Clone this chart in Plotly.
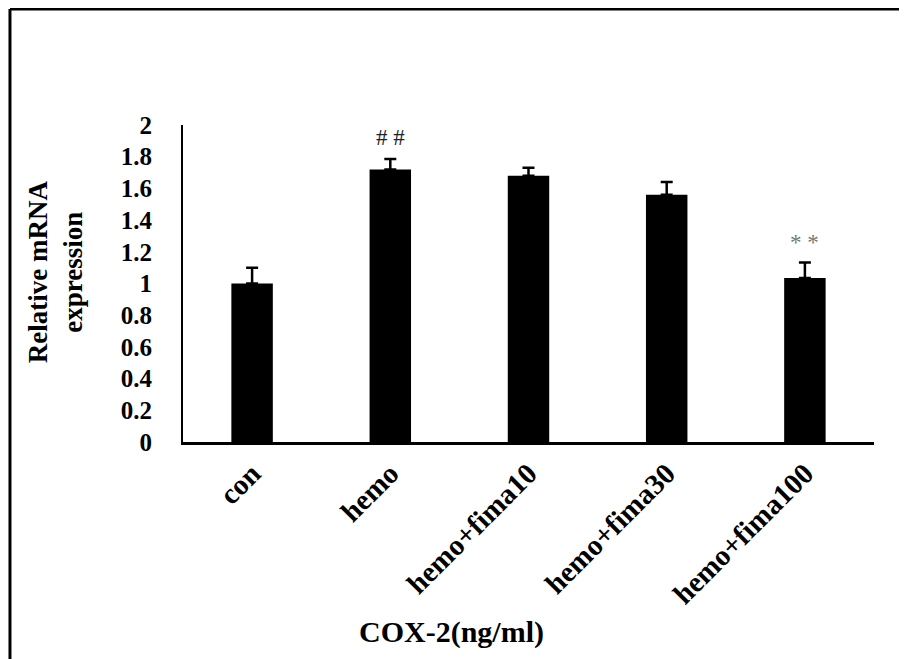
import plotly.graph_objects as go

categories = ["con", "hemo", "hemo+fima10", "hemo+fima30", "hemo+fima100"]
values = [1.00, 1.72, 1.68, 1.56, 1.035]
errors = [0.10, 0.065, 0.05, 0.08, 0.097]
marks = ["", "# #", "", "", "* *"]
mark_y = [None, 1.92, None, None, 1.26]
mark_colors = ["#000", "#222222", "#000", "#000", "#777777"]
yticks = [0, 0.2, 0.4, 0.6, 0.8, 1, 1.2, 1.4, 1.6, 1.8, 2]

FONT = "Liberation Serif"

fig = go.Figure()
fig.add_trace(go.Bar(
    x=categories, y=values, width=0.30,
    marker=dict(color="black", line=dict(width=0)),
    error_y=dict(type="data", array=errors, visible=True, color="black",
                 thickness=2.5, width=6, symmetric=False, arrayminus=[0]*5),
))

annotations = []
for c, m, my, mc in zip(categories, marks, mark_y, mark_colors):
    if m:
        annotations.append(dict(x=c, y=my, xref="x", yref="y", text=m,
                                showarrow=False,
                                font=dict(family=FONT, size=23, color=mc)))

annotations.append(dict(x=0.388, y=-0.60, xref="paper", yref="paper",
                        xanchor="center", yanchor="middle",
                        text="<b>COX-2(ng/ml)</b>", showarrow=False,
                        font=dict(family=FONT, size=30, color="black")))
annotations.append(dict(x=-0.185, y=0.536, xref="paper", yref="paper",
                        xanchor="center", yanchor="middle",
                        text="<b>Relative mRNA<br>expression</b>", textangle=-90,
                        showarrow=False,
                        font=dict(family=FONT, size=27, color="black")))

shapes = [
    dict(type="line", xref="paper", yref="paper", x0=-0.2504, x1=1.06, y0=1.366, y1=1.366,
         line=dict(color="black", width=3)),
    dict(type="line", xref="paper", yref="paper", x0=-0.2504, x1=-0.2504, y0=1.366, y1=-0.70,
         line=dict(color="black", width=3)),
]

fig.update_layout(
    width=899, height=651,
    margin=dict(l=175, r=33, t=117, b=217),
    paper_bgcolor="white", plot_bgcolor="white",
    showlegend=False,
    font=dict(family=FONT, color="black"),
    annotations=annotations,
    shapes=shapes,
    bargap=0.7,
)
fig.update_xaxes(
    type="category", range=[-0.5, 4.5],
    showline=True, linecolor="black", linewidth=3,
    ticks="", tickangle=-45,
    tickfont=dict(family=FONT, size=29, color="black", weight="bold"),
    showgrid=False, zeroline=False,
)
fig.update_yaxes(
    range=[0, 2], tickvals=yticks,
    ticktext=[("%g" % v) for v in yticks],
    showline=True, linecolor="black", linewidth=2,
    ticks="", ticklabelstandoff=24,
    tickfont=dict(family=FONT, size=25, color="black", weight="bold"),
    showgrid=False, zeroline=False,
)

fig.write_html("out.html")
